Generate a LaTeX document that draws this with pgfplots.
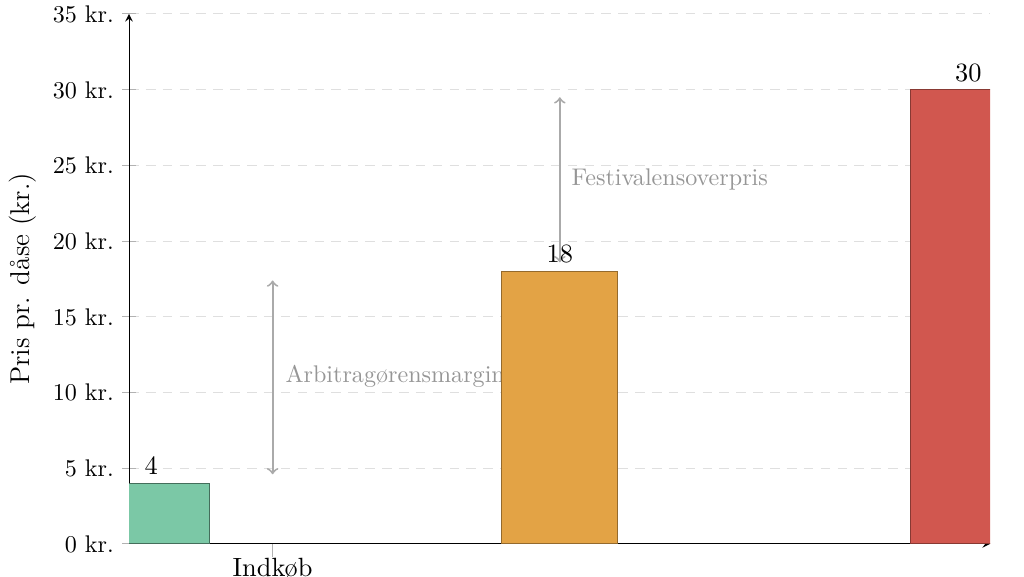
\documentclass[border=0pt]{standalone}
\usepackage{pgfplots}
\pgfplotsset{compat=1.18}
\definecolor{cgreen}{RGB}{123,200,166}
\definecolor{corange}{RGB}{227,163,69}
\definecolor{cred}{RGB}{209,87,79}
\definecolor{annot}{RGB}{170,170,170}
\definecolor{annottext}{RGB}{150,150,150}
\begin{document}
\begin{tikzpicture}
\begin{axis}[
  scale only axis,
  width=357.26pt, height=219.92pt,
  axis lines=left,
  xmin=-0.0545, xmax=2.053,
  ymin=0, ymax=35,
  ytick={0,5,...,35},
  yticklabel={\pgfmathprintnumber{\tick}~kr.},
  xtick={0.297},
  xticklabels={Indkøb},
  xticklabel style={font=\fontsize{10.95}{13}\selectfont, yshift=3pt},
  tick align=center,
  tick style={gray!60, thin},
  major tick length=5.5pt,
  ymajorgrids,
  grid style={gray!25, dash pattern=on 4pt off 3pt},
  ylabel={Pris pr. dåse (kr.)},
  ylabel style={font=\fontsize{11.3}{13}\selectfont},
  ybar, bar width=0.284, bar shift=0pt,
  nodes near coords,
  every node near coord/.append style={font=\fontsize{10.95}{13}\selectfont, black},
  axis line style={black},
]
\coordinate (bl) at (rel axis cs:0,0);
\draw[annot, line width=0.8pt, <->] (axis cs:0.297,4.6) -- (axis cs:0.297,17.4);
\draw[annot, line width=0.8pt, <->] (axis cs:1,18.6) -- (axis cs:1,29.5);
\node[annottext, anchor=west, inner sep=0pt] at (axis cs:0.3274,11.1) {Arbitragørensmargin};
\node[annottext, anchor=west, inner sep=0pt] at (axis cs:1.0276,24.1) {Festivalensoverpris};
\addplot[fill=cgreen, draw=cgreen!55!black] coordinates {(0,4)};
\addplot[fill=corange, draw=corange!65!black] coordinates {(1,18)};
\addplot[fill=cred, draw=cred!65!black] coordinates {(2,30)};
\end{axis}
\pgfresetboundingbox
\path[use as bounding box] ([xshift=-53.53pt,yshift=-13.69pt]bl) rectangle ++(424.9pt,239.4pt);
\end{tikzpicture}
\end{document}
